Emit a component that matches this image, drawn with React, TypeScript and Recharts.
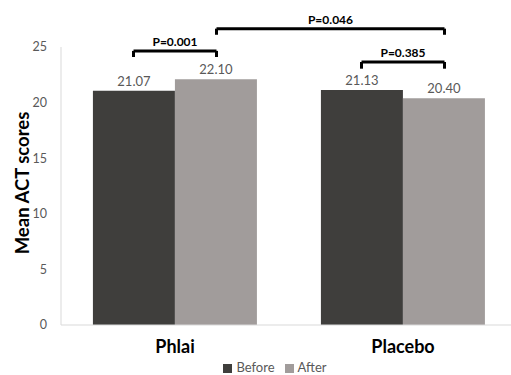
import { Bar, BarChart, LabelList, Legend, ReferenceDot, ReferenceLine, XAxis, YAxis } from "recharts";

const categories = ["Phlai", "Placebo"];
const before = [21.07, 21.13];
const after = [22.1, 20.4];
const yTicks = [0, 5, 10, 15, 20, 25];

// significance brackets: [category, series] endpoints, bracket height and arm length in score units
const brackets = [
  { p: "P=0.001", from: ["Phlai", "Before"], to: ["Phlai", "After"], top: 24.65, arm: 0.55 },
  { p: "P=0.046", from: ["Phlai", "After"], to: ["Placebo", "After"], top: 26.65, arm: 0.55 },
  { p: "P=0.385", from: ["Placebo", "Before"], to: ["Placebo", "After"], top: 23.65, arm: 0.6 }
];

const data = categories.map((name, i) => ({ name, Before: before[i], After: after[i] }));

const BAR_OFFSET = 0.182; // bar centre offset from band centre, in band units
const DARK = "#3f3e3c";
const LIGHT = "#a19c9b";
const FONT = "Lato, 'Open Sans', sans-serif";
const SERIES_ORDER = ["Before", "After"];

// position on a 0..1 axis spanning the plot width
function barX(cat: string, series: string) {
  const i = categories.indexOf(cat);
  return (i + 0.5 + (series === "Before" ? -BAR_OFFSET : BAR_OFFSET)) / categories.length;
}

export default function App() {
  return (
    <div style={{ position: "absolute", left: 0, top: 0, width: 511, height: 375, overflow: "hidden", background: "#fff" }}>
      <BarChart
        width={517}
        height={375}
        data={data}
        margin={{ top: 47, right: 0, bottom: 0, left: 0 }}
        barCategoryGap="14%"
        barGap={0}
        style={{ fontFamily: FONT }}
      >
        <XAxis
          dataKey="name"
          axisLine={{ stroke: "#d9d9d9" }}
          tickLine={false}
          height={34}
          tick={{ fill: "#000", fontSize: 18, fontWeight: 700 }}
          dy={7}
        />
        <XAxis xAxisId="num" type="number" domain={[0, 1]} allowDataOverflow hide />
        <YAxis
          width={61}
          domain={[0, 25]}
          ticks={yTicks}
          axisLine={{ stroke: "#d9d9d9" }}
          tickLine={false}
          tick={{ fill: "#595959", fontSize: 12.5 }}
          dx={-6}
          label={{
            value: "Mean ACT scores",
            angle: -90,
            position: "center",
            dx: -8,
            dy: -3,
            style: { fill: "#000", fontSize: 18.5, fontWeight: 700, textAnchor: "middle" }
          }}
        />
        <Legend
          iconType="square"
          iconSize={9}
          itemSorter={(item: { value: string }) => SERIES_ORDER.indexOf(item.value)}
          wrapperStyle={{ left: 220, width: 120, fontSize: 13, color: "#595959" }}
          formatter={(v) => <span style={{ color: "#595959" }}>{v}</span>}
        />
        <Bar dataKey="Before" fill={DARK} isAnimationActive={false}>
          <LabelList dataKey="Before" position="top" fill="#595959" fontSize={13} formatter={(v: number) => v.toFixed(2)} />
        </Bar>
        <Bar dataKey="After" fill={LIGHT} isAnimationActive={false}>
          <LabelList dataKey="After" position="top" fill="#595959" fontSize={13} formatter={(v: number) => v.toFixed(2)} />
        </Bar>
        {brackets.map((b) => {
          const x1 = barX(b.from[0], b.from[1]);
          const x2 = barX(b.to[0], b.to[1]);
          const lo = b.top - b.arm;
          return [
            <ReferenceLine
              key={b.p + "h"}
              xAxisId="num"
              ifOverflow="visible"
              stroke="#000"
              strokeWidth={3}
              segment={[{ x: x1, y: b.top }, { x: x2, y: b.top }]}
            />,
            <ReferenceLine
              key={b.p + "l"}
              xAxisId="num"
              ifOverflow="visible"
              stroke="#000"
              strokeWidth={3}
              segment={[{ x: x1, y: b.top }, { x: x1, y: lo }]}
            />,
            <ReferenceLine
              key={b.p + "r"}
              xAxisId="num"
              ifOverflow="visible"
              stroke="#000"
              strokeWidth={3}
              segment={[{ x: x2, y: b.top }, { x: x2, y: lo }]}
            />,
            <ReferenceDot
              key={b.p + "t"}
              xAxisId="num"
              x={(x1 + x2) / 2}
              y={b.top + 0.8}
              r={0}
              ifOverflow="visible"
              stroke="none"
              label={{ value: b.p, position: "center", fill: "#000", fontSize: 12, fontWeight: 700 }}
            />
          ];
        })}
      </BarChart>
    </div>
  );
}
